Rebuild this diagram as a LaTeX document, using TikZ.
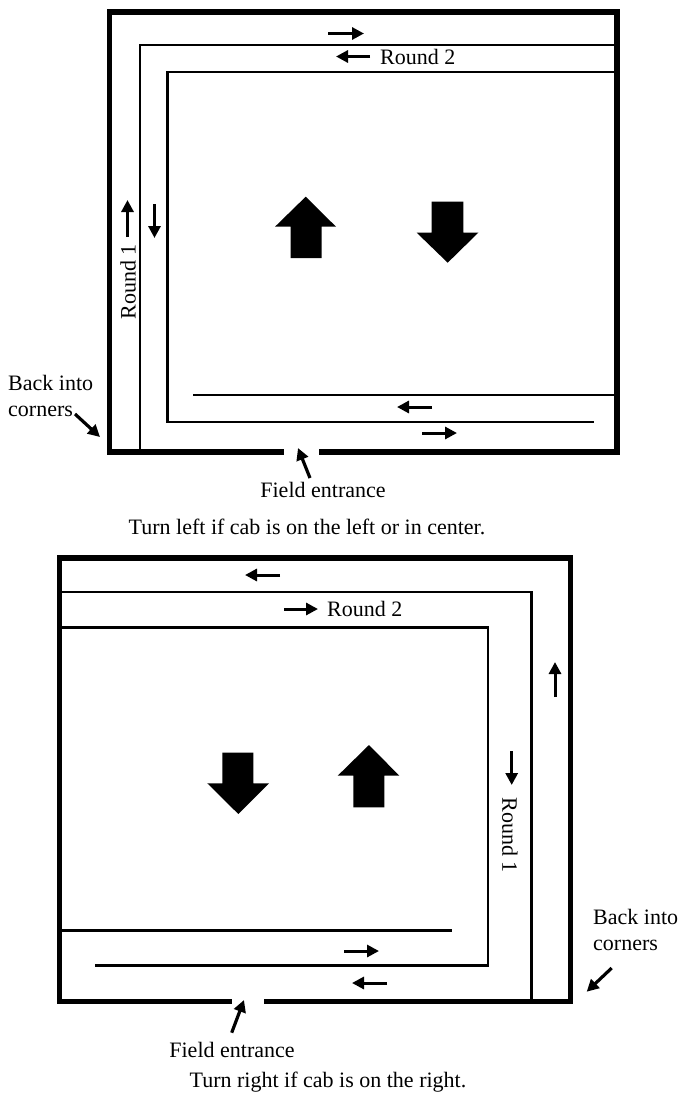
\documentclass[tikz,border=0pt]{standalone}
\usepackage{fontspec}
\setmainfont{Liberation Serif}
\usetikzlibrary{arrows.meta}
\begin{document}
\begin{tikzpicture}[x=1pt,y=-1pt,
  wall/.style={line width=5.5pt,line join=miter},
  lane/.style={line width=2.8pt,line join=miter},
  sarrow/.style={line width=3pt,-{Triangle[length=12pt,width=12pt]}},
  ptr/.style={line width=3.2pt,-{Triangle[length=12pt,width=12pt]}},
  bigarrow/.style={fill=black,draw=none},
  lbl/.style={font=\fontsize{22}{26}\selectfont,inner sep=0pt}]
\useasboundingbox (0,0) rectangle (680,1093);

% ---------- top diagram ----------
\draw[wall] (319,452) -- (617,452) -- (617,12) -- (109.5,12) -- (109.5,452) -- (284,452);
\draw[lane] (140,452) -- (140,45) -- (617,45);
\draw[lane] (617,72) -- (167.5,72) -- (167.5,422) -- (594,422);
\draw[lane] (193,395) -- (617,395);

\draw[sarrow] (328,33.5) -- (364,33.5);
\draw[sarrow] (370,56.5) -- (336,56.5);
\draw[sarrow] (127.5,237) -- (127.5,200);
\draw[sarrow] (154.5,204) -- (154.5,238);
\draw[sarrow] (432,407) -- (397,407);
\draw[sarrow] (422,433) -- (457,433);

\node[lbl,anchor=west] (r2a) at (380,56.5) {Round 2};
\node[lbl,rotate=90] (r1a) at (128,282) {Round 1};
\node[lbl,anchor=west,align=left] (bca) at (8,396) {Back into\\corners};
\node[lbl] (fea) at (323,490) {Field entrance};
\node[lbl] (capa) at (307,527) {Turn left if cab is on the left or in center.};
\coordinate (bcatip) at (100,437);
\coordinate (featip) at (298,448);
\draw[ptr] (75,414) -- (bcatip);
\draw[ptr] (310,478) -- (featip);

\fill[bigarrow] (305.7,196.7) -- (336,226.7) -- (321.7,226.7) -- (321.7,258) -- (290.7,258) -- (290.7,226.7) -- (275,226.7) -- cycle;
\fill[bigarrow] (431.7,201.7) -- (463.3,201.7) -- (463.3,232.7) -- (478.3,232.7) -- (447.7,262.7) -- (416.7,232.7) -- (431.7,232.7) -- cycle;

% ---------- bottom diagram ----------
\draw[wall] (264,1001.5) -- (570.5,1001.5) -- (570.5,558) -- (59.5,558) -- (59.5,1001.5) -- (232,1001.5);
\draw[lane] (59.5,592) -- (531.7,592) -- (531.7,1001.5);
\draw[lane] (59.5,627.5) -- (488,627.5) -- (488,965.5) -- (95,965.5);
\draw[lane] (59.5,930.7) -- (452,930.7);

\draw[sarrow] (280,575) -- (245,575);
\draw[sarrow] (284,609) -- (318,609);
\draw[sarrow] (555,697) -- (555,662);
\draw[sarrow] (511.7,751) -- (511.7,785);
\draw[sarrow] (344,951) -- (379,951);
\draw[sarrow] (387,983) -- (352,983);

\node[lbl,anchor=west] (r2b) at (327,609) {Round 2};
\node[lbl,rotate=-90] (r1b) at (510,835) {Round 1};
\node[lbl,anchor=west,align=left] (bcb) at (593,930) {Back into\\corners};
\node[lbl] (feb) at (232,1050) {Field entrance};
\node[lbl] (capb) at (328,1082) {Turn right if cab is on the right.};
\coordinate (bcbtip) at (586.7,991.7);
\coordinate (febtip) at (244,1000);
\draw[ptr] (611.7,968) -- (bcbtip);
\draw[ptr] (231.7,1032.7) -- (febtip);

\fill[bigarrow] (222.3,752.7) -- (253.3,752.7) -- (253.3,783.3) -- (269,783.3) -- (238.3,814) -- (207.3,783.3) -- (222.3,783.3) -- cycle;
\fill[bigarrow] (369,745) -- (399.3,775.7) -- (384.3,775.7) -- (384.3,807.3) -- (353.3,807.3) -- (353.3,775.7) -- (337.7,775.7) -- cycle;
\end{tikzpicture}
\end{document}
